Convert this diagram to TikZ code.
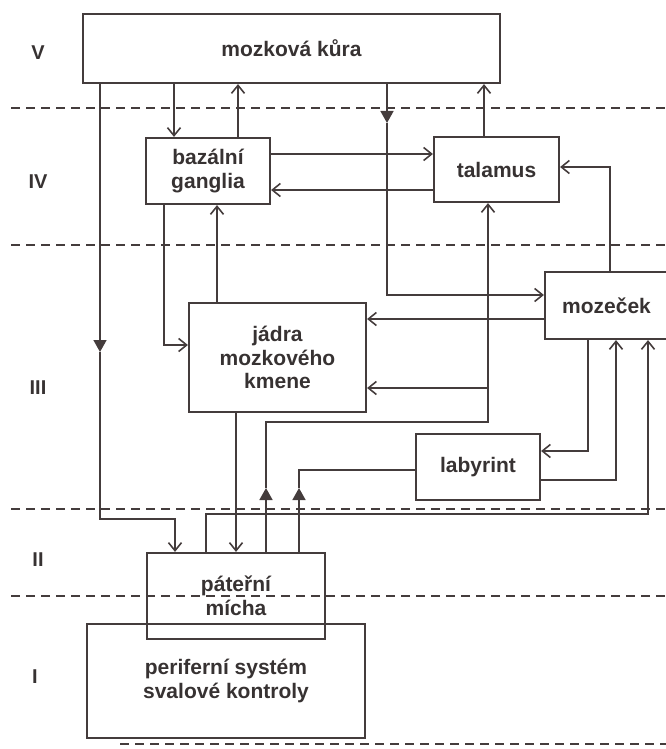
\documentclass[tikz,border=0pt]{standalone}
\usepackage{fontspec}
\setmainfont{Liberation Sans}
\usetikzlibrary{arrows.meta}
\definecolor{ink}{RGB}{68,60,60}
\definecolor{txt}{RGB}{55,50,50}
\begin{document}
\begin{tikzpicture}[x=1pt,y=-1pt,
  box/.style={draw=ink, line width=2.2pt, inner sep=0pt, align=center, text=txt,
    font=\bfseries\fontsize{21}{23.5}\selectfont},
  lvl/.style={text=txt, font=\bfseries\fontsize{20}{22}\selectfont},
  conn/.style={draw=ink, line width=1.6pt},
  arr/.style={conn, -{Straight Barb[length=8pt,width=13pt]}},
  tri/.style={conn, -{Triangle[length=12pt,width=13pt]}},
  hline/.style={draw=ink, line width=1.5pt, dash pattern=on 9pt off 6pt}]
\useasboundingbox (0,0) rectangle (666,749);
% level separators
\draw[hline] (11,108) -- (666,108);
\draw[hline] (11,245) -- (666,245);
\draw[hline] (11,509) -- (666,509);
\draw[hline] (11,596) -- (666,596);
\draw[hline] (120,744) -- (666,744);
% level labels
\node[lvl] (lV) at (38,53) {V};
\node[lvl] (lIV) at (38,182) {IV};
\node[lvl] (lIII) at (38,388) {III};
\node[lvl] (lII) at (38,560) {II};
\node[lvl] (lI) at (35,677) {I};
% boxes
\node[box, minimum width=417, minimum height=69] (cortex) at (291.5,48.5) {mozková kůra};
\node[box, minimum width=124, minimum height=66] (bazal) at (208,171) {bazální\\ganglia};
\node[box, minimum width=125, minimum height=65] (tal) at (496.5,169.5) {talamus};
\node[box, minimum width=123, minimum height=67] (moz) at (606.5,305.5) {mozeček};
\node[box, minimum width=177, minimum height=109] (jad) at (277.5,357.5) {jádra\\mozkového\\kmene};
\node[box, minimum width=124, minimum height=66] (lab) at (478,467) {labyrint};
\node[box, minimum width=278, minimum height=114] (per) at (226,681) {periferní systém\\svalové kontroly};
\node[box, minimum width=178, minimum height=86] (pat) at (236,596) {páteřní\\mícha};
% column / row helpers
\coordinate (xa) at (174,0);
\coordinate (xb) at (238,0);
\coordinate (xc) at (484,0);
\coordinate (xd) at (387,0);
\coordinate (xe) at (610,0);
\coordinate (xf) at (164,0);
\coordinate (xg) at (217,0);
\coordinate (xh) at (266,0);
\coordinate (xi) at (488,0);
\coordinate (xj) at (299,0);
\coordinate (xk) at (588,0);
\coordinate (xl) at (616,0);
\coordinate (xm) at (206,0);
\coordinate (xn) at (648,0);
\coordinate (xo) at (100,0);
\coordinate (xp) at (175,0);
\coordinate (xq) at (236,0);
\coordinate (ya) at (0,154);
\coordinate (yb) at (0,190);
\coordinate (yd) at (0,295);
\coordinate (ye) at (0,167);
\coordinate (yf) at (0,319);
\coordinate (yg) at (0,345);
\coordinate (yh) at (0,422);
\coordinate (yi) at (0,388);
\coordinate (yj) at (0,470);
\coordinate (yk) at (0,451);
\coordinate (yl) at (0,480);
\coordinate (ym) at (0,514);
\coordinate (yo) at (0,519);
\coordinate (t1) at (0,123);
\coordinate (t2) at (0,352);
\coordinate (t3) at (0,488);
% connectors
\draw[arr] (cortex.south -| xa) -- (bazal.north -| xa);
\draw[arr] (bazal.north -| xb) -- (cortex.south -| xb);
\draw[arr] (bazal.east |- ya) -- (tal.west |- ya);
\draw[arr] (tal.west |- yb) -- (bazal.east |- yb);
\draw[arr] (tal.north -| xc) -- (cortex.south -| xc);
\draw[tri] (cortex.south -| xd) -- (xd |- t1);
\draw[arr] (xd |- t1) |- (moz.west |- yd);
\draw[arr] (moz.north -| xe) |- (tal.east |- ye);
\draw[arr] (moz.west |- yf) -- (jad.east |- yf);
\draw[arr] (bazal.south -| xf) |- (jad.west |- yg);
\draw[arr] (jad.north -| xg) -- (bazal.south -| xg);
\draw[tri] (pat.north -| xh) -- (xh |- t3);
\draw[arr] (xh |- t3) |- (xi |- yh) -- (tal.south -| xi);
\draw[arr] (xi |- yi) -- (jad.east |- yi);
\draw[tri] (pat.north -| xj) -- (xj |- t3);
\draw[conn] (xj |- t3) |- (lab.west |- yj);
\draw[arr] (moz.south -| xk) |- (lab.east |- yk);
\draw[arr] (lab.east |- yl) -| (moz.south -| xl);
\draw[arr] (pat.north -| xm) |- (xn |- ym) -- (moz.south -| xn);
\draw[tri] (cortex.south -| xo) -- (xo |- t2);
\draw[arr] (xo |- t2) |- (xp |- yo) -- (pat.north -| xp);
\draw[arr] (jad.south -| xq) -- (pat.north -| xq);
\end{tikzpicture}
\end{document}
